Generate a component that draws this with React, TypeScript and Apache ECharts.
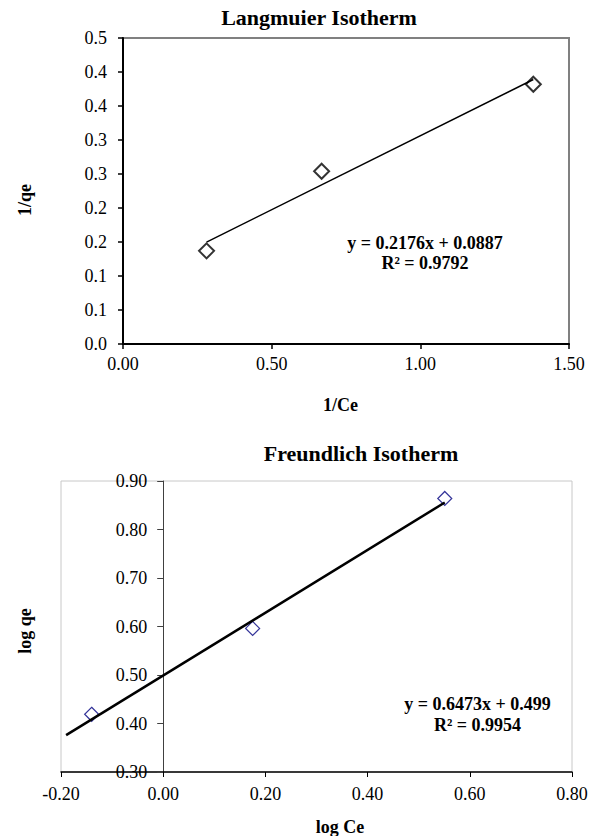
import React, { useEffect, useRef } from "react";
import * as echarts from "echarts";

// Langmuir isotherm data
const langX = [0.281, 0.668, 1.38];
const langY = [0.137, 0.254, 0.382];
const langFit = [0.2176, 0.0887]; // slope, intercept
const langFitRange = [0.281, 1.38];
const langYTicks = ["0.0", "0.1", "0.1", "0.2", "0.2", "0.3", "0.3", "0.4", "0.4", "0.5"];
const langXTicks = ["0.00", "0.50", "1.00", "1.50"];

// Freundlich isotherm data
const freX = [-0.14, 0.175, 0.551];
const freY = [0.419, 0.596, 0.864];
const freFit = [0.6473, 0.499];
const freFitRange = [-0.19, 0.551];
const freYTicks = ["0.30", "0.40", "0.50", "0.60", "0.70", "0.80", "0.90"];
const freXTicks = ["-0.20", "0.00", "0.20", "0.40", "0.60", "0.80"];

const FONT = '"Liberation Serif", "Times New Roman", serif';

function txt(x: number, y: number, text: string, size: number, bold: boolean, rot = 0, lh?: number) {
  return {
    type: "text",
    x,
    y,
    rotation: rot,
    silent: true,
    style: {
      text,
      fill: "#000",
      fontFamily: FONT,
      fontSize: size,
      fontWeight: bold ? "bold" : "normal",
      align: "center",
      verticalAlign: "middle",
      lineHeight: lh,
    },
  };
}

export default function App() {
  const ref = useRef<HTMLDivElement>(null);
  useEffect(() => {
    if (!ref.current) return;
    const chart = echarts.init(ref.current, undefined, { renderer: "svg" });
    const labelBase = { fontFamily: FONT, fontSize: 18, color: "#000" };
    chart.setOption({
      animation: false,
      backgroundColor: "#fff",
      grid: [
        { left: 123, top: 38, width: 446, height: 306, show: true, borderColor: "#808080", borderWidth: 2 },
        { left: 61, top: 481, width: 511, height: 291, show: true, borderColor: "#c8c8c8", borderWidth: 1 },
      ],
      xAxis: [
        {
          gridIndex: 0,
          type: "value",
          min: 0,
          max: 1.5,
          interval: 0.5,
          axisLine: { lineStyle: { color: "#000", width: 2 } },
          axisTick: { show: true, length: 5, lineStyle: { color: "#000", width: 1.5 } },
          axisLabel: { ...labelBase, margin: 11, formatter: (v: number) => langXTicks[Math.round(v / 0.5)] },
          splitLine: { show: false },
        },
        {
          gridIndex: 1,
          type: "value",
          min: -0.2,
          max: 0.8,
          interval: 0.2,
          axisLine: { onZero: false, lineStyle: { color: "#000", width: 1.5 } },
          axisTick: { show: true, length: 5, lineStyle: { color: "#000", width: 1 } },
          axisLabel: { ...labelBase, margin: 13, formatter: (v: number) => freXTicks[Math.round((v + 0.2) / 0.2)] },
          splitLine: { show: false },
        },
      ],
      yAxis: [
        {
          gridIndex: 0,
          type: "value",
          min: 0,
          max: 0.45,
          interval: 0.05,
          axisLine: { show: true, lineStyle: { color: "#000", width: 2 } },
          axisTick: { show: true, length: 5, lineStyle: { color: "#000", width: 1.5 } },
          axisLabel: { ...labelBase, margin: 16, formatter: (v: number) => langYTicks[Math.round(v / 0.05)] },
          splitLine: { show: false },
        },
        {
          gridIndex: 1,
          type: "value",
          min: 0.3,
          max: 0.9,
          interval: 0.1,
          offset: -102.2,
          axisLine: { show: true, onZero: false, lineStyle: { color: "#404040", width: 1 } },
          axisTick: { show: true, length: 6, lineStyle: { color: "#404040", width: 1 } },
          axisLabel: { ...labelBase, margin: 16, formatter: (v: number) => freYTicks[Math.round((v - 0.3) / 0.1)] },
          splitLine: { show: false },
        },
      ],
      series: [
        {
          type: "line",
          xAxisIndex: 0,
          yAxisIndex: 0,
          data: langFitRange.map((x) => [x, langFit[0] * x + langFit[1]]),
          symbol: "none",
          silent: true,
          lineStyle: { color: "#000", width: 1.5 },
        },
        {
          type: "scatter",
          xAxisIndex: 0,
          yAxisIndex: 0,
          data: langX.map((x, i) => [x, langY[i]]),
          symbol: "diamond",
          symbolSize: 15,
          itemStyle: { color: "rgba(0,0,0,0)", borderColor: "#000", borderWidth: 2 },
        },
        {
          type: "line",
          xAxisIndex: 1,
          yAxisIndex: 1,
          data: freFitRange.map((x) => [x, freFit[0] * x + freFit[1]]),
          symbol: "none",
          silent: true,
          lineStyle: { color: "#000", width: 2.5 },
        },
        {
          type: "scatter",
          xAxisIndex: 1,
          yAxisIndex: 1,
          data: freX.map((x, i) => [x, freY[i]]),
          symbol: "diamond",
          symbolSize: 14,
          itemStyle: { color: "rgba(0,0,0,0)", borderColor: "#000080", borderWidth: 1.2 },
        },
      ],
      graphic: [
        txt(319, 17, "Langmuier Isotherm", 22, true),
        txt(25, 200, "1/qe", 18, true, Math.PI / 2),
        txt(340.5, 405, "1/Ce", 18, true),
        txt(425, 253, "y = 0.2176x + 0.0887\nR² = 0.9792", 18, true, 0, 20),
        txt(361, 453, "Freundlich Isotherm", 22, true),
        txt(25, 631, "log qe", 18, true, Math.PI / 2),
        txt(340, 827, "log Ce", 18, true),
        txt(477.5, 714, "y = 0.6473x + 0.499\nR² = 0.9954", 18, true, 0, 21),
      ],
    });
    return () => chart.dispose();
  }, []);
  return (
    <div
      ref={ref}
      style={{ position: "fixed", left: 0, top: 0, width: 597, height: 836, background: "#fff" }}
    />
  );
}
